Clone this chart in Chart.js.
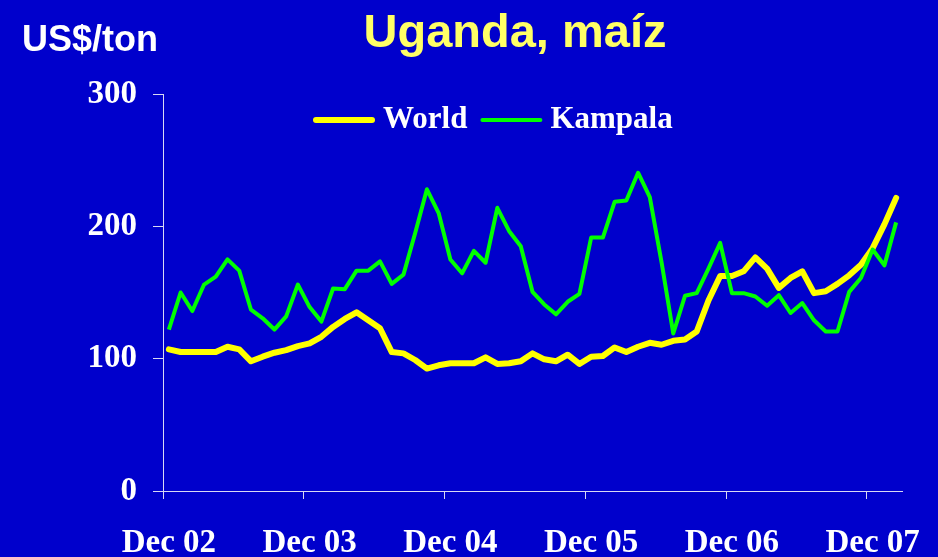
<!DOCTYPE html>
<html>
<head>
<meta charset="utf-8">
<title>Uganda, maíz</title>
<script src="https://cdn.jsdelivr.net/npm/chart.js@4.4.1/dist/chart.umd.min.js"></script>
<style>
    html, body { margin: 0; padding: 0; background: #0000cc; }
    #wrap { width: 938px; height: 557px; position: relative; }
</style>
</head>
<body>
<div id="wrap"><canvas id="chart"></canvas></div>
<script>
const months = [
    'Dec 02',
    'Jan 03', 'Feb 03', 'Mar 03', 'Apr 03', 'May 03', 'Jun 03', 'Jul 03', 'Aug 03', 'Sep 03', 'Oct 03', 'Nov 03', 'Dec 03',
    'Jan 04', 'Feb 04', 'Mar 04', 'Apr 04', 'May 04', 'Jun 04', 'Jul 04', 'Aug 04', 'Sep 04', 'Oct 04', 'Nov 04', 'Dec 04',
    'Jan 05', 'Feb 05', 'Mar 05', 'Apr 05', 'May 05', 'Jun 05', 'Jul 05', 'Aug 05', 'Sep 05', 'Oct 05', 'Nov 05', 'Dec 05',
    'Jan 06', 'Feb 06', 'Mar 06', 'Apr 06', 'May 06', 'Jun 06', 'Jul 06', 'Aug 06', 'Sep 06', 'Oct 06', 'Nov 06', 'Dec 06',
    'Jan 07', 'Feb 07', 'Mar 07', 'Apr 07', 'May 07', 'Jun 07', 'Jul 07', 'Aug 07', 'Sep 07', 'Oct 07', 'Nov 07', 'Dec 07',
    'Jan 08', 'Feb 08'
];
const tickLabels = ['Dec 02', 'Dec 03', 'Dec 04', 'Dec 05', 'Dec 06', 'Dec 07'];
const yTicks = [0, 100, 200, 300];

// US$/ton, monthly
const world = [
    107, 105, 105, 105, 105, 109, 107, 98, 101.5, 104.5, 106.5, 109.5,
    111.5, 116.5, 124, 130, 135, 129, 123, 105, 104, 99, 92.5, 95, 96.5,
    96.5, 96.5, 101, 96, 96.5, 98, 104, 99.5, 98, 103, 96,
    101.5, 102, 108.5, 105, 109, 112, 110.5, 113.5, 114.5, 120.5, 144, 162.5, 162.5, 166,
    176.5, 168, 153.5, 161, 166, 149.5, 151, 156.5, 163, 171, 183.5, 201.5, 221.5
];
const kampala = [
    122, 150, 136, 156, 162, 175, 166.5, 137, 130.5, 122, 132, 156,
    139, 128, 153, 152.5, 166.5, 166.5, 173.5, 156.5, 163.5, 195, 228, 210, 175,
    164.5, 181.5, 172.5, 214, 196.5, 185, 150.5, 141, 133.5, 143, 149,
    191.5, 191.5, 218.5, 219.5, 240.5, 222, 173, 119, 147.5, 149.5, 168, 187.5, 149.5, 149.5,
    147, 140, 148, 134.5, 142, 129, 120.5, 120.5, 150.5, 161, 182.5, 170.5, 203
];

const BG = '#0000cc';
const AXIS = '#d8d8f4';
const SERIF = '"Liberation Serif", "Times New Roman", serif';
const SANS = '"Liberation Sans", Arial, sans-serif';

// title, unit label and the legend drawn inside the plot
const decorations = {
    id: 'decorations',
    beforeDraw(chart) {
        const ctx = chart.ctx;
        ctx.save();
        ctx.fillStyle = BG;
        ctx.fillRect(0, 0, chart.width, chart.height);
        ctx.restore();
    },
    afterDraw(chart) {
        const ctx = chart.ctx;
        ctx.save();
        ctx.textBaseline = 'alphabetic';
        ctx.fillStyle = '#ffff66';
        ctx.font = 'bold 47px ' + SANS;
        ctx.textAlign = 'center';
        ctx.fillText('Uganda, maíz', 515, 47);

        ctx.fillStyle = '#ffffff';
        ctx.font = 'bold 36px ' + SANS;
        ctx.textAlign = 'left';
        ctx.fillText('US$/ton', 22, 51);

        let x = 313;
        const y = 120;
        ctx.font = 'bold 31px ' + SERIF;
        ctx.textBaseline = 'middle';
        chart.data.datasets.forEach(ds => {
            ctx.strokeStyle = ds.borderColor;
            ctx.lineWidth = ds.borderWidth;
            ctx.lineCap = 'round';
            ctx.beginPath();
            ctx.moveTo(x + ds.borderWidth / 2, y);
            ctx.lineTo(x + 62 - ds.borderWidth / 2, y);
            ctx.stroke();
            ctx.fillStyle = '#ffffff';
            ctx.fillText(ds.label, x + 70, y);
            x += 70 + ctx.measureText(ds.label).width + 13;
        });
        ctx.restore();
    }
};

let chart;

function initChart() {
    const ctx = document.getElementById('chart').getContext('2d');
    chart = new Chart(ctx, {
        type: 'line',
        data: {
            labels: months,
            datasets: [
                {
                    label: 'World',
                    data: world,
                    borderColor: '#ffff00',
                    borderWidth: 6,
                    borderCapStyle: 'round',
                    borderJoinStyle: 'round',
                    pointRadius: 0,
                    tension: 0,
                    order: 2
                },
                {
                    label: 'Kampala',
                    data: kampala,
                    borderColor: '#00ff00',
                    borderWidth: 4,
                    borderJoinStyle: 'round',
                    pointRadius: 0,
                    tension: 0,
                    order: 1
                }
            ]
        },
        options: {
            responsive: true,
            maintainAspectRatio: false,
            animation: false,
            events: [],
            layout: { padding: { left: 0, top: 94, right: 36, bottom: 0 } },
            scales: {
                x: {
                    type: 'category',
                    offset: true,
                    afterFit: s => { s.height = 66; },
                    border: { color: AXIS, width: 1 },
                    grid: {
                        offset: true,
                        drawOnChartArea: false,
                        tickLength: 8,
                        color: c => (c.index !== undefined && tickLabels.includes(months[c.index])) ? AXIS : 'transparent'
                    },
                    ticks: {
                        autoSkip: false,
                        maxRotation: 0,
                        padding: 25,
                        color: '#ffffff',
                        font: { family: SERIF, size: 33, weight: 'bold' },
                        callback: (v, i) => tickLabels.includes(months[i]) ? months[i] : ''
                    }
                },
                y: {
                    min: yTicks[0],
                    max: yTicks[yTicks.length - 1],
                    afterFit: s => { s.width = 163; },
                    afterBuildTicks: s => { s.ticks = yTicks.map(v => ({ value: v })); },
                    border: { color: AXIS, width: 1 },
                    grid: { drawOnChartArea: false, tickLength: 10, color: AXIS },
                    ticks: {
                        padding: 16,
                        color: '#ffffff',
                        font: { family: SERIF, size: 33, weight: 'bold' }
                    }
                }
            },
            plugins: {
                legend: { display: false },
                tooltip: { enabled: false }
            }
        },
        plugins: [decorations]
    });
}

window.onload = () => {
    initChart();
};
</script>
</body>
</html>
